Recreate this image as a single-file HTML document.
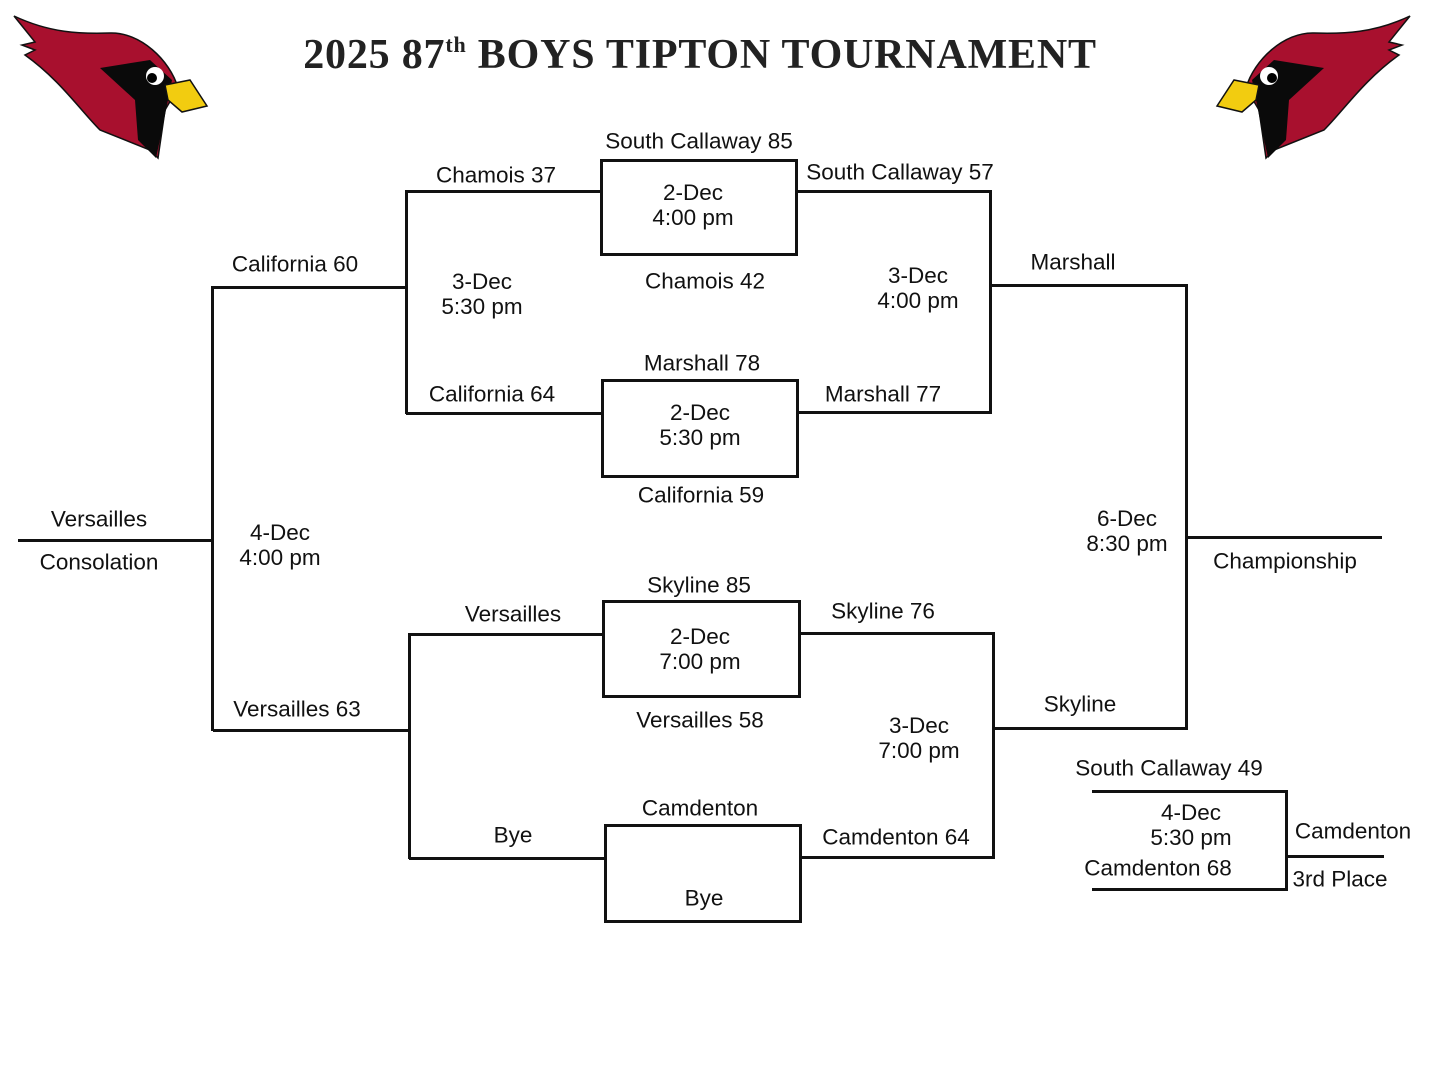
<!DOCTYPE html>
<html><head><meta charset="utf-8"><style>
body{margin:0;width:1440px;height:1080px;background:#fff;position:relative;overflow:hidden;font-family:"Liberation Sans","DejaVu Sans",sans-serif;}
.t{position:absolute;transform:translate(-50%,-50%);font-size:22.5px;color:#111;white-space:nowrap;text-align:center;line-height:25px;}
.h{position:absolute;height:3px;background:#111;}
.v{position:absolute;width:3px;background:#111;}
.b{position:absolute;border:3px solid #111;box-sizing:border-box;}
.title{position:absolute;left:700px;top:55px;transform:translate(-50%,-50%);font-family:"Liberation Serif",serif;font-weight:bold;font-size:42px;color:#222;white-space:nowrap;letter-spacing:0.8px;}
.title sup{font-size:22px;vertical-align:16px;}
</style></head><body>
<svg width="1440" height="170" style="position:absolute;left:0;top:0">
<defs><g id="bird">
<path d="M14,16 C50,33 80,34 110,33 C140,32 170,60 178,88 L165,110 L158,158 L150,150 L100,130 C80,110 60,80 25,55 L35,50 L22,45 L35,42 Z" fill="#a8102e" stroke="#111" stroke-width="1.5"/>
<path d="M100,68 L150,60 L172,80 L168,100 L162,130 L156,158 L138,140 L135,100 Z" fill="#0a0a0a"/>
<circle cx="155" cy="76" r="9" fill="#fff"/><circle cx="152" cy="78" r="5" fill="#000"/>
<path d="M165,85 L190,80 L207,106 L182,112 L168,100 Z" fill="#f2cc10" stroke="#111" stroke-width="1.5"/>
</g></defs>
<use href="#bird"/>
<use href="#bird" transform="translate(1424,0) scale(-1,1)"/>
</svg>
<div class="title">2025 87<sup>th</sup> BOYS TIPTON TOURNAMENT</div>

<div class="b" style="left:600px;top:159px;width:198px;height:97px"></div>
<div class="b" style="left:601px;top:379px;width:198px;height:99px"></div>
<div class="b" style="left:602px;top:600px;width:199px;height:98px"></div>
<div class="b" style="left:604px;top:824px;width:198px;height:99px"></div>

<div class="h" style="left:406px;top:190px;width:196px"></div>
<div class="h" style="left:797px;top:190px;width:195px"></div>
<div class="v" style="left:405px;top:190px;height:224px"></div>
<div class="v" style="left:989px;top:190px;height:223px"></div>
<div class="h" style="left:406px;top:412px;width:196px"></div>
<div class="h" style="left:798px;top:411px;width:194px"></div>
<div class="h" style="left:212px;top:286px;width:195px"></div>
<div class="h" style="left:990px;top:284px;width:197px"></div>
<div class="v" style="left:211px;top:286px;height:445px"></div>
<div class="h" style="left:213px;top:729px;width:197px"></div>
<div class="h" style="left:18px;top:539px;width:195px"></div>
<div class="v" style="left:1185px;top:284px;height:445px"></div>
<div class="h" style="left:994px;top:727px;width:194px"></div>
<div class="h" style="left:1187px;top:536px;width:195px"></div>
<div class="h" style="left:409px;top:633px;width:194px"></div>
<div class="h" style="left:800px;top:632px;width:194px"></div>
<div class="v" style="left:408px;top:633px;height:226px"></div>
<div class="v" style="left:992px;top:632px;height:226px"></div>
<div class="h" style="left:409px;top:857px;width:196px"></div>
<div class="h" style="left:801px;top:856px;width:194px"></div>
<div class="h" style="left:1092px;top:790px;width:196px"></div>
<div class="h" style="left:1092px;top:888px;width:196px"></div>
<div class="v" style="left:1285px;top:790px;height:101px"></div>
<div class="h" style="left:1286px;top:855px;width:98px"></div>

<div class="t" style="left:699px;top:141px">South Callaway 85</div>
<div class="t" style="left:496px;top:175px">Chamois 37</div>
<div class="t" style="left:900px;top:172px">South Callaway 57</div>
<div class="t" style="left:693px;top:205px">2-Dec<br>4:00 pm</div>
<div class="t" style="left:295px;top:264px">California 60</div>
<div class="t" style="left:1073px;top:262px">Marshall</div>
<div class="t" style="left:482px;top:294px">3-Dec<br>5:30 pm</div>
<div class="t" style="left:705px;top:281px">Chamois 42</div>
<div class="t" style="left:918px;top:288px">3-Dec<br>4:00 pm</div>
<div class="t" style="left:702px;top:363px">Marshall 78</div>
<div class="t" style="left:492px;top:394px">California 64</div>
<div class="t" style="left:883px;top:394px">Marshall 77</div>
<div class="t" style="left:700px;top:425px">2-Dec<br>5:30 pm</div>
<div class="t" style="left:701px;top:495px">California 59</div>
<div class="t" style="left:99px;top:519px">Versailles</div>
<div class="t" style="left:99px;top:562px">Consolation</div>
<div class="t" style="left:280px;top:545px">4-Dec<br>4:00 pm</div>
<div class="t" style="left:1127px;top:531px">6-Dec<br>8:30 pm</div>
<div class="t" style="left:1285px;top:561px">Championship</div>
<div class="t" style="left:699px;top:585px">Skyline 85</div>
<div class="t" style="left:513px;top:614px">Versailles</div>
<div class="t" style="left:883px;top:611px">Skyline 76</div>
<div class="t" style="left:700px;top:649px">2-Dec<br>7:00 pm</div>
<div class="t" style="left:1080px;top:704px">Skyline</div>
<div class="t" style="left:297px;top:709px">Versailles 63</div>
<div class="t" style="left:700px;top:720px">Versailles 58</div>
<div class="t" style="left:919px;top:738px">3-Dec<br>7:00 pm</div>
<div class="t" style="left:1169px;top:768px">South Callaway 49</div>
<div class="t" style="left:700px;top:808px">Camdenton</div>
<div class="t" style="left:1191px;top:825px">4-Dec<br>5:30 pm</div>
<div class="t" style="left:1353px;top:831px">Camdenton</div>
<div class="t" style="left:513px;top:835px">Bye</div>
<div class="t" style="left:896px;top:837px">Camdenton 64</div>
<div class="t" style="left:1158px;top:868px">Camdenton 68</div>
<div class="t" style="left:1340px;top:879px">3rd Place</div>
<div class="t" style="left:704px;top:898px">Bye</div>
</body></html>
